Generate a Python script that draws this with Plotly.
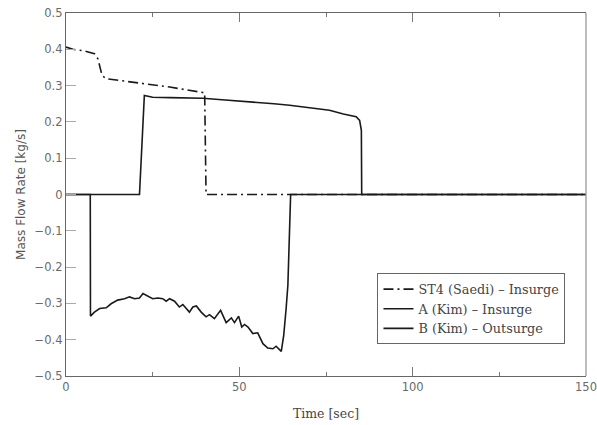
import plotly.graph_objects as go

# ST4 (Saedi) - insurge
st4_t = [0, 2, 5, 8.2, 9.2, 10.4, 11.6, 17.4, 23, 29.9, 35, 40.0, 40.4, 150]
st4_v = [0.406, 0.400, 0.396, 0.388, 0.374, 0.328, 0.319, 0.312, 0.305, 0.296, 0.288, 0.280, 0, 0]

# A (Kim) - insurge
a_t = [0, 21.2, 22.6, 25, 30, 39.5, 45, 50, 55, 60, 64.5, 70, 76, 80, 83.7, 84.7, 85.2, 85.3, 150]
a_v = [0, 0, 0.273, 0.268, 0.267, 0.265, 0.261, 0.258, 0.254, 0.250, 0.246, 0.240, 0.232, 0.222,
       0.214, 0.204, 0.177, 0, 0]

# B (Kim) - outsurge
b_t = [0, 7.0, 7.06, 8.2, 9.7, 11.6, 13.0, 14.9, 16.9, 18.3, 19.8, 21.2, 22.2, 23.6, 25.0, 26.5,
       27.9, 28.9, 29.9, 31.3, 32.7, 33.7, 34.7, 35.6, 36.6, 37.6, 39.0, 40.4, 41.4, 42.8, 44.6,
       46.2, 47.7, 48.6, 49.8, 50.7, 51.5, 52.5, 53.9, 55.3, 56.8, 58.2, 59.7, 60.6, 62.1, 62.8,
       63.5, 64.0, 64.8, 150]
b_v = [0, 0, -0.335, -0.324, -0.314, -0.312, -0.301, -0.291, -0.287, -0.282, -0.287, -0.285,
       -0.273, -0.280, -0.287, -0.285, -0.287, -0.294, -0.287, -0.294, -0.310, -0.303, -0.314,
       -0.324, -0.310, -0.307, -0.324, -0.337, -0.331, -0.342, -0.319, -0.353, -0.340, -0.353,
       -0.335, -0.365, -0.358, -0.365, -0.383, -0.381, -0.411, -0.423, -0.425, -0.418, -0.432,
       -0.388, -0.314, -0.250, 0, 0]

x_ticks = [0, 50, 100, 150]
y_ticks = [0.5, 0.4, 0.3, 0.2, 0.1, 0, -0.1, -0.2, -0.3, -0.4, -0.5]
y_labels = ["0.5", "0.4", "0.3", "0.2", "0.1", "0", "\u22120.1", "\u22120.2", "\u22120.3",
            "\u22120.4", "\u22120.5"]

line_col = "#1a1a1a"
fig = go.Figure()
fig.add_trace(go.Scatter(x=st4_t, y=st4_v, mode="lines", name="ST4 (Saedi) \u2013 Insurge",
                         line=dict(color=line_col, width=1.6, dash="10px,4px,2px,4px")))
fig.add_trace(go.Scatter(x=a_t, y=a_v, mode="lines", name="A (Kim) \u2013 Insurge",
                         line=dict(color=line_col, width=1.6)))
fig.add_trace(go.Scatter(x=b_t, y=b_v, mode="lines", name="B (Kim) \u2013 Outsurge",
                         line=dict(color=line_col, width=1.6)))

tick_font = dict(family="DejaVu Sans", size=11.5, color="#6a6a6a")

fig.update_layout(
    width=597, height=425,
    margin=dict(l=66, r=11, t=13, b=49),
    plot_bgcolor="white", paper_bgcolor="white",
    showlegend=True,
    legend=dict(x=0.599, y=0.283, xanchor="left", yanchor="top",
                bgcolor="white", bordercolor="#666", borderwidth=1,
                font=dict(family="DejaVu Serif", size=12.8, color="#444"),
                itemwidth=30, tracegroupgap=3),
    xaxis=dict(range=[0, 150], tickvals=x_ticks, ticktext=[str(v) for v in x_ticks],
               ticks="inside", ticklen=9, tickcolor="#777", tickwidth=1,
               minor=dict(tickvals=[25, 75, 125], ticks="inside", ticklen=4,
                          tickcolor="#777", tickwidth=1),
               showline=True, linecolor="#666", linewidth=1.3, mirror="ticks",
               showgrid=False, zeroline=False, tickfont=tick_font, automargin=False,
               title=dict(text="Time [sec]", standoff=16,
                          font=dict(family="DejaVu Serif", size=12.5, color="#444"))),
    yaxis=dict(range=[-0.5, 0.5], tickvals=y_ticks, ticktext=y_labels,
               ticks="inside", ticklen=10, tickcolor="#aaa", tickwidth=1,
               showline=True, linecolor="#666", linewidth=1.3, mirror=False,
               showgrid=False, zeroline=False, tickfont=tick_font, automargin=False,
               title=dict(text="Mass Flow Rate [kg/s]", standoff=6,
                          font=dict(family="DejaVu Sans", size=12, color="#555"))),
)

# lighter right border of the frame
fig.add_shape(type="line", xref="paper", yref="paper", x0=1, x1=1, y0=0, y1=1,
              line=dict(color="#999", width=1.3))

fig.write_html("out.html")
